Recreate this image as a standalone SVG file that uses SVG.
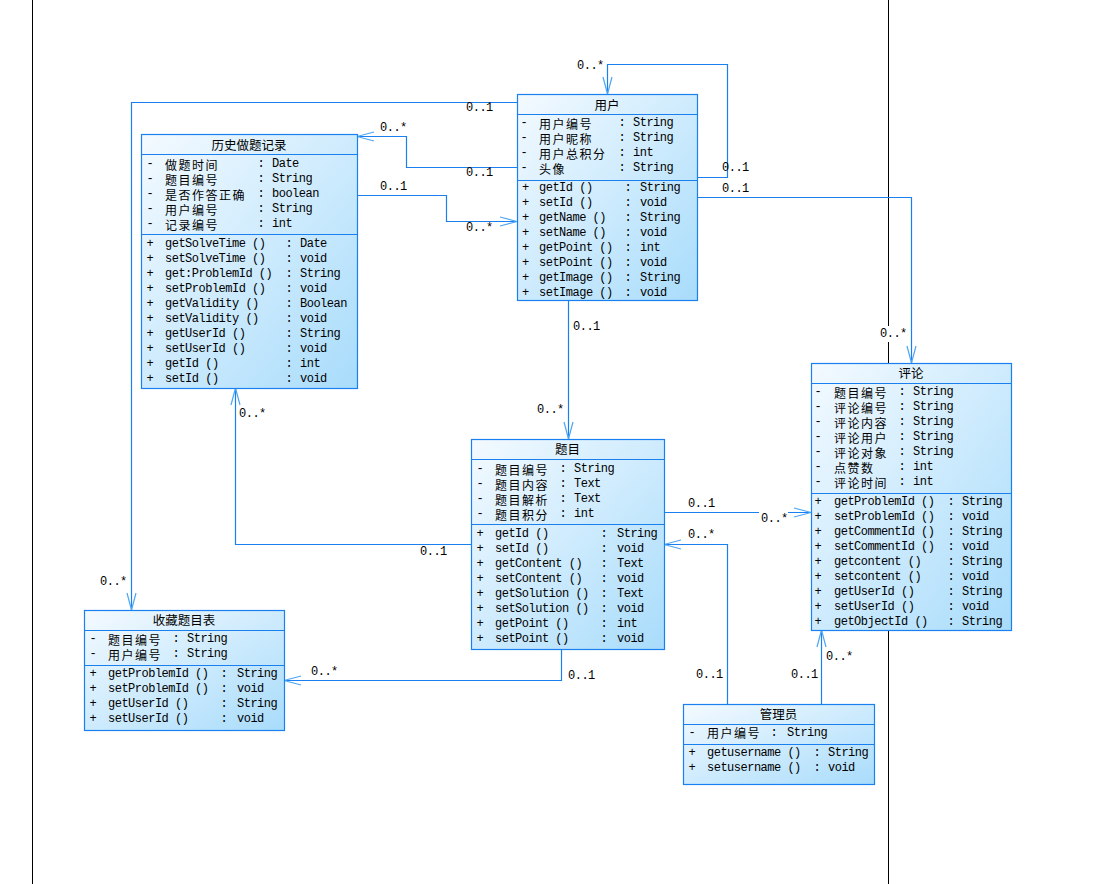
<svg xmlns="http://www.w3.org/2000/svg" width="1099" height="884" viewBox="0 0 1099 884">
<defs>
<linearGradient id="bg" x1="0" y1="0" x2="1" y2="1">
<stop offset="0" stop-color="#f4faff"/>
<stop offset="1" stop-color="#a8dcfb"/>
</linearGradient>
<marker id="arr" viewBox="-18 -6 20 12" refX="0" refY="0" markerWidth="20" markerHeight="12" markerUnits="userSpaceOnUse" orient="auto">
<path d="M-17,-4.5 L0,0 L-17,4.5" fill="none" stroke="#4ea6f2" stroke-width="1.2"/>
</marker>
<style>
.box{fill:url(#bg);stroke:#1a80f0;stroke-width:1.2}
.div{stroke:#1a80f0;stroke-width:1.2}
.c{fill:none;stroke:#1a80f0;stroke-width:1.2;marker-end:url(#arr)}
text{fill:#000;dominant-baseline:central}
.t{font-family:"Noto Sans CJK SC",sans-serif;font-size:12.5px;text-anchor:middle}
.z{font-family:"Noto Sans CJK SC",sans-serif;font-size:12px;letter-spacing:1.5px}
.m{font-family:"Liberation Mono","Noto Sans CJK SC",monospace;font-size:12px;letter-spacing:-0.5px}
.s{font-family:"Liberation Mono",monospace;font-size:12px;text-anchor:middle}
.l{font-family:"Liberation Mono",monospace;font-size:12px;letter-spacing:-0.5px}
</style>
</defs>
<rect x="0" y="0" width="1099" height="884" fill="#fff"/>
<line x1="32.5" y1="0" x2="32.5" y2="884" stroke="#000" stroke-width="1"/>
<line x1="888.5" y1="0" x2="888.5" y2="884" stroke="#000" stroke-width="1"/>

<g id="connectors">
<path class="c" d="M697,177.5 H727.5 V64.5 H607.5 V94"/>
<path class="c" d="M697,197.5 H911.5 V363"/>
<path class="c" d="M517,102.5 H131.5 V610"/>
<path class="c" d="M517,167.5 H406.5 V136.5 H357"/>
<path class="c" d="M357,195.5 H446.5 V221.5 H517"/>
<path class="c" d="M568.5,300 V439"/>
<path class="c" d="M471,544.5 H235.5 V388"/>
<path class="c" d="M664,512.5 H811"/>
<path class="c" d="M727.5,704 V544.5 H664"/>
<path class="c" d="M821.5,704 V630"/>
<path class="c" d="M561.5,649 V680.5 H284"/>
<rect x="878" y="326" width="30" height="16" fill="#fff"/>
<rect x="759" y="511" width="29" height="16" fill="#fff"/>
<text class="l" x="577" y="66">0..*</text>
<text class="l" x="722" y="168">0..1</text>
<text class="l" x="722" y="189">0..1</text>
<text class="l" x="880" y="334">0..*</text>
<text class="l" x="466" y="108">0..1</text>
<text class="l" x="380" y="128">0..*</text>
<text class="l" x="466" y="173">0..1</text>
<text class="l" x="380" y="187">0..1</text>
<text class="l" x="466" y="228">0..*</text>
<text class="l" x="573" y="327">0..1</text>
<text class="l" x="537" y="410">0..*</text>
<text class="l" x="239" y="414">0..*</text>
<text class="l" x="420" y="552">0..1</text>
<text class="l" x="688" y="504">0..1</text>
<text class="l" x="761" y="519">0..*</text>
<text class="l" x="688" y="535">0..*</text>
<text class="l" x="696" y="675">0..1</text>
<text class="l" x="791" y="675">0..1</text>
<text class="l" x="826" y="657">0..*</text>
<text class="l" x="100" y="582">0..*</text>
<text class="l" x="311" y="672">0..*</text>
<text class="l" x="568" y="676">0..1</text>
</g>

<g id="user">
<rect class="box" x="517.5" y="94.5" width="180" height="206"/>
<line class="div" x1="517.5" y1="114.5" x2="697.5" y2="114.5"/>
<line class="div" x1="517.5" y1="180.5" x2="697.5" y2="180.5"/>
<text class="t" x="607" y="104">用户</text>
<text class="s" x="524" y="123">-</text><text class="z" x="539" y="123">用户编号</text><text class="s" x="622" y="123">:</text><text class="m" x="633" y="123">String</text>
<text class="s" x="524" y="138">-</text><text class="z" x="539" y="138">用户昵称</text><text class="s" x="622" y="138">:</text><text class="m" x="633" y="138">String</text>
<text class="s" x="524" y="153">-</text><text class="z" x="539" y="153">用户总积分</text><text class="s" x="622" y="153">:</text><text class="m" x="633" y="153">int</text>
<text class="s" x="524" y="168">-</text><text class="z" x="539" y="168">头像</text><text class="s" x="622" y="168">:</text><text class="m" x="633" y="168">String</text>
<text class="s" x="525.5" y="188">+</text><text class="m" x="539" y="188">getId ()</text><text class="s" x="628" y="188">:</text><text class="m" x="640" y="188">String</text>
<text class="s" x="525.5" y="203">+</text><text class="m" x="539" y="203">setId ()</text><text class="s" x="628" y="203">:</text><text class="m" x="640" y="203">void</text>
<text class="s" x="525.5" y="218">+</text><text class="m" x="539" y="218">getName ()</text><text class="s" x="628" y="218">:</text><text class="m" x="640" y="218">String</text>
<text class="s" x="525.5" y="233">+</text><text class="m" x="539" y="233">setName ()</text><text class="s" x="628" y="233">:</text><text class="m" x="640" y="233">void</text>
<text class="s" x="525.5" y="248">+</text><text class="m" x="539" y="248">getPoint ()</text><text class="s" x="628" y="248">:</text><text class="m" x="640" y="248">int</text>
<text class="s" x="525.5" y="263">+</text><text class="m" x="539" y="263">setPoint ()</text><text class="s" x="628" y="263">:</text><text class="m" x="640" y="263">void</text>
<text class="s" x="525.5" y="278">+</text><text class="m" x="539" y="278">getImage ()</text><text class="s" x="628" y="278">:</text><text class="m" x="640" y="278">String</text>
<text class="s" x="525.5" y="293">+</text><text class="m" x="539" y="293">setImage ()</text><text class="s" x="628" y="293">:</text><text class="m" x="640" y="293">void</text>
</g>

<g id="history">
<rect class="box" x="141.5" y="134.5" width="216" height="254"/>
<line class="div" x1="141.5" y1="154.5" x2="357.5" y2="154.5"/>
<line class="div" x1="141.5" y1="234.5" x2="357.5" y2="234.5"/>
<text class="t" x="249" y="144">历史做题记录</text>
<text class="s" x="150" y="164">-</text><text class="z" x="165" y="164">做题时间</text><text class="s" x="261" y="164">:</text><text class="m" x="272" y="164">Date</text>
<text class="s" x="150" y="179">-</text><text class="z" x="165" y="179">题目编号</text><text class="s" x="261" y="179">:</text><text class="m" x="272" y="179">String</text>
<text class="s" x="150" y="194">-</text><text class="z" x="165" y="194">是否作答正确</text><text class="s" x="261" y="194">:</text><text class="m" x="272" y="194">boolean</text>
<text class="s" x="150" y="209">-</text><text class="z" x="165" y="209">用户编号</text><text class="s" x="261" y="209">:</text><text class="m" x="272" y="209">String</text>
<text class="s" x="150" y="224">-</text><text class="z" x="165" y="224">记录编号</text><text class="s" x="261" y="224">:</text><text class="m" x="272" y="224">int</text>
<text class="s" x="150" y="244">+</text><text class="m" x="165" y="244">getSolveTime ()</text><text class="s" x="289" y="244">:</text><text class="m" x="300" y="244">Date</text>
<text class="s" x="150" y="259">+</text><text class="m" x="165" y="259">setSolveTime ()</text><text class="s" x="289" y="259">:</text><text class="m" x="300" y="259">void</text>
<text class="s" x="150" y="274">+</text><text class="m" x="165" y="274">get:ProblemId ()</text><text class="s" x="289" y="274">:</text><text class="m" x="300" y="274">String</text>
<text class="s" x="150" y="289">+</text><text class="m" x="165" y="289">setProblemId ()</text><text class="s" x="289" y="289">:</text><text class="m" x="300" y="289">void</text>
<text class="s" x="150" y="304">+</text><text class="m" x="165" y="304">getValidity ()</text><text class="s" x="289" y="304">:</text><text class="m" x="300" y="304">Boolean</text>
<text class="s" x="150" y="319">+</text><text class="m" x="165" y="319">setValidity ()</text><text class="s" x="289" y="319">:</text><text class="m" x="300" y="319">void</text>
<text class="s" x="150" y="334">+</text><text class="m" x="165" y="334">getUserId ()</text><text class="s" x="289" y="334">:</text><text class="m" x="300" y="334">String</text>
<text class="s" x="150" y="349">+</text><text class="m" x="165" y="349">setUserId ()</text><text class="s" x="289" y="349">:</text><text class="m" x="300" y="349">void</text>
<text class="s" x="150" y="364">+</text><text class="m" x="165" y="364">getId ()</text><text class="s" x="289" y="364">:</text><text class="m" x="300" y="364">int</text>
<text class="s" x="150" y="379">+</text><text class="m" x="165" y="379">setId ()</text><text class="s" x="289" y="379">:</text><text class="m" x="300" y="379">void</text>
</g>

<g id="comment">
<rect class="box" x="811.5" y="363.5" width="200" height="267"/>
<line class="div" x1="811.5" y1="383.5" x2="1011.5" y2="383.5"/>
<line class="div" x1="811.5" y1="493.5" x2="1011.5" y2="493.5"/>
<text class="t" x="911" y="372">评论</text>
<text class="s" x="818" y="392">-</text><text class="z" x="834" y="392">题目编号</text><text class="s" x="902" y="392">:</text><text class="m" x="913" y="392">String</text>
<text class="s" x="818" y="407">-</text><text class="z" x="834" y="407">评论编号</text><text class="s" x="902" y="407">:</text><text class="m" x="913" y="407">String</text>
<text class="s" x="818" y="422">-</text><text class="z" x="834" y="422">评论内容</text><text class="s" x="902" y="422">:</text><text class="m" x="913" y="422">String</text>
<text class="s" x="818" y="437">-</text><text class="z" x="834" y="437">评论用户</text><text class="s" x="902" y="437">:</text><text class="m" x="913" y="437">String</text>
<text class="s" x="818" y="452">-</text><text class="z" x="834" y="452">评论对象</text><text class="s" x="902" y="452">:</text><text class="m" x="913" y="452">String</text>
<text class="s" x="818" y="467">-</text><text class="z" x="834" y="467">点赞数</text><text class="s" x="902" y="467">:</text><text class="m" x="913" y="467">int</text>
<text class="s" x="818" y="482">-</text><text class="z" x="834" y="482">评论时间</text><text class="s" x="902" y="482">:</text><text class="m" x="913" y="482">int</text>
<text class="s" x="818" y="502">+</text><text class="m" x="834" y="502">getProblemId ()</text><text class="s" x="951" y="502">:</text><text class="m" x="962" y="502">String</text>
<text class="s" x="818" y="517">+</text><text class="m" x="834" y="517">setProblemId ()</text><text class="s" x="951" y="517">:</text><text class="m" x="962" y="517">void</text>
<text class="s" x="818" y="532">+</text><text class="m" x="834" y="532">getCommentId ()</text><text class="s" x="951" y="532">:</text><text class="m" x="962" y="532">String</text>
<text class="s" x="818" y="547">+</text><text class="m" x="834" y="547">setCommentId ()</text><text class="s" x="951" y="547">:</text><text class="m" x="962" y="547">void</text>
<text class="s" x="818" y="562">+</text><text class="m" x="834" y="562">getcontent ()</text><text class="s" x="951" y="562">:</text><text class="m" x="962" y="562">String</text>
<text class="s" x="818" y="577">+</text><text class="m" x="834" y="577">setcontent ()</text><text class="s" x="951" y="577">:</text><text class="m" x="962" y="577">void</text>
<text class="s" x="818" y="592">+</text><text class="m" x="834" y="592">getUserId ()</text><text class="s" x="951" y="592">:</text><text class="m" x="962" y="592">String</text>
<text class="s" x="818" y="607">+</text><text class="m" x="834" y="607">setUserId ()</text><text class="s" x="951" y="607">:</text><text class="m" x="962" y="607">void</text>
<text class="s" x="818" y="622">+</text><text class="m" x="834" y="622">getObjectId ()</text><text class="s" x="951" y="622">:</text><text class="m" x="962" y="622">String</text>
</g>

<g id="problem">
<rect class="box" x="471.5" y="439.5" width="193" height="210"/>
<line class="div" x1="471.5" y1="459.5" x2="664.5" y2="459.5"/>
<line class="div" x1="471.5" y1="524.5" x2="664.5" y2="524.5"/>
<text class="t" x="567.5" y="448.5">题目</text>
<text class="s" x="480" y="469">-</text><text class="z" x="495" y="469">题目编号</text><text class="s" x="563" y="469">:</text><text class="m" x="574" y="469">String</text>
<text class="s" x="480" y="484">-</text><text class="z" x="495" y="484">题目内容</text><text class="s" x="563" y="484">:</text><text class="m" x="574" y="484">Text</text>
<text class="s" x="480" y="499">-</text><text class="z" x="495" y="499">题目解析</text><text class="s" x="563" y="499">:</text><text class="m" x="574" y="499">Text</text>
<text class="s" x="480" y="514">-</text><text class="z" x="495" y="514">题目积分</text><text class="s" x="563" y="514">:</text><text class="m" x="574" y="514">int</text>
<text class="s" x="480" y="534">+</text><text class="m" x="495" y="534">getId ()</text><text class="s" x="604" y="534">:</text><text class="m" x="617" y="534">String</text>
<text class="s" x="480" y="549">+</text><text class="m" x="495" y="549">setId ()</text><text class="s" x="604" y="549">:</text><text class="m" x="617" y="549">void</text>
<text class="s" x="480" y="564">+</text><text class="m" x="495" y="564">getContent ()</text><text class="s" x="604" y="564">:</text><text class="m" x="617" y="564">Text</text>
<text class="s" x="480" y="579">+</text><text class="m" x="495" y="579">setContent ()</text><text class="s" x="604" y="579">:</text><text class="m" x="617" y="579">void</text>
<text class="s" x="480" y="594">+</text><text class="m" x="495" y="594">getSolution ()</text><text class="s" x="604" y="594">:</text><text class="m" x="617" y="594">Text</text>
<text class="s" x="480" y="609">+</text><text class="m" x="495" y="609">setSolution ()</text><text class="s" x="604" y="609">:</text><text class="m" x="617" y="609">void</text>
<text class="s" x="480" y="624">+</text><text class="m" x="495" y="624">getPoint ()</text><text class="s" x="604" y="624">:</text><text class="m" x="617" y="624">int</text>
<text class="s" x="480" y="639">+</text><text class="m" x="495" y="639">setPoint ()</text><text class="s" x="604" y="639">:</text><text class="m" x="617" y="639">void</text>
</g>

<g id="favorite">
<rect class="box" x="84.5" y="610.5" width="200" height="120"/>
<line class="div" x1="84.5" y1="630.5" x2="284.5" y2="630.5"/>
<line class="div" x1="84.5" y1="665.5" x2="284.5" y2="665.5"/>
<text class="t" x="184" y="619.5">收藏题目表</text>
<text class="s" x="93" y="639">-</text><text class="z" x="108" y="639">题目编号</text><text class="s" x="176" y="639">:</text><text class="m" x="187" y="639">String</text>
<text class="s" x="93" y="654">-</text><text class="z" x="108" y="654">用户编号</text><text class="s" x="176" y="654">:</text><text class="m" x="187" y="654">String</text>
<text class="s" x="93" y="674">+</text><text class="m" x="108" y="674">getProblemId ()</text><text class="s" x="224" y="674">:</text><text class="m" x="237" y="674">String</text>
<text class="s" x="93" y="689">+</text><text class="m" x="108" y="689">setProblemId ()</text><text class="s" x="224" y="689">:</text><text class="m" x="237" y="689">void</text>
<text class="s" x="93" y="704">+</text><text class="m" x="108" y="704">getUserId ()</text><text class="s" x="224" y="704">:</text><text class="m" x="237" y="704">String</text>
<text class="s" x="93" y="719">+</text><text class="m" x="108" y="719">setUserId ()</text><text class="s" x="224" y="719">:</text><text class="m" x="237" y="719">void</text>
</g>

<g id="admin">
<rect class="box" x="683.5" y="704.5" width="191" height="80"/>
<line class="div" x1="683.5" y1="724.5" x2="874.5" y2="724.5"/>
<line class="div" x1="683.5" y1="744.5" x2="874.5" y2="744.5"/>
<text class="t" x="778.5" y="713">管理员</text>
<text class="s" x="692" y="732.5">-</text><text class="z" x="707" y="732.5">用户编号</text><text class="s" x="774" y="732.5">:</text><text class="m" x="787" y="732.5">String</text>
<text class="s" x="692" y="753">+</text><text class="m" x="707" y="753">getusername ()</text><text class="s" x="817" y="753">:</text><text class="m" x="828" y="753">String</text>
<text class="s" x="692" y="768">+</text><text class="m" x="707" y="768">setusername ()</text><text class="s" x="817" y="768">:</text><text class="m" x="828" y="768">void</text>
</g>
</svg>
